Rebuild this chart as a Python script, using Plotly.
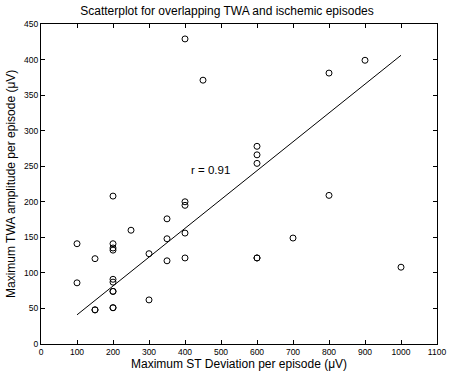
import plotly.graph_objects as go

# Data
st_dev = [100, 100, 150, 150, 150, 200, 200, 200, 200, 200, 200, 200, 200, 200, 200,
          250, 300, 300, 350, 350, 350, 400, 400, 400, 400, 400, 450,
          600, 600, 600, 600, 600, 700, 800, 800, 900, 1000]
twa_amp = [141, 86, 120, 48, 48, 208, 141, 135, 132, 91, 87, 74, 74, 51, 51,
           160, 127, 62, 176, 148, 117, 429, 200, 195, 156, 121, 371,
           278, 266, 254, 121, 121, 149, 381, 209, 399, 108]
# fitted line endpoints
fit_x = [100, 1000]
fit_y = [41, 406]
r_label = "r = 0.91"
x_ticks = list(range(0, 1101, 100))
y_ticks = list(range(0, 451, 50))
x_title = "Maximum ST Deviation per episode (μV)"
y_title = "Maximum TWA amplitude per episode (μV)"

font_family = "Liberation Sans, Arial, Helvetica, sans-serif"

fig = go.Figure()
fig.add_trace(go.Scatter(
    x=st_dev, y=twa_amp, mode="markers",
    marker=dict(symbol="circle-open", size=6, color="black", line=dict(width=1, color="black")),
    showlegend=False, hoverinfo="x+y"))
fig.add_trace(go.Scatter(
    x=fit_x, y=fit_y, mode="lines",
    line=dict(color="black", width=1), showlegend=False))

fig.add_annotation(x=410, y=245, text=r_label, showarrow=False, xanchor="left",
                   yanchor="middle", font=dict(size=11.5, color="black", family=font_family))

# axis titles as annotations for precise placement
fig.add_annotation(xref="paper", yref="paper", x=0.5, y=0, yshift=-20, text=x_title,
                   showarrow=False, xanchor="center", yanchor="middle",
                   font=dict(size=12, color="black", family=font_family))
fig.add_annotation(xref="paper", yref="paper", x=0, y=0.5, xshift=-30, text=y_title,
                   textangle=-90, showarrow=False, xanchor="center", yanchor="middle",
                   font=dict(size=12, color="black", family=font_family))

axis_common = dict(
    showline=True, linecolor="black", linewidth=1, mirror="allticks",
    ticks="inside", ticklen=4, tickcolor="black", showgrid=False, zeroline=False,
    tickfont=dict(size=8.5, color="black", family=font_family),
    ticklabeloverflow="allow",
)

fig.update_layout(
    width=454, height=372,
    margin=dict(l=41, r=8, t=24, b=28),
    paper_bgcolor="white", plot_bgcolor="white",
    font=dict(family=font_family, color="black"),
    title=dict(text="Scatterplot for overlapping TWA and ischemic episodes",
               x=0.5, xanchor="center", yref="container", y=1 - 11/372, yanchor="middle",
               font=dict(size=12, color="black", family=font_family)),
    xaxis=dict(range=[0, 1100], tickvals=x_ticks, **axis_common),
    yaxis=dict(range=[0, 450], tickvals=y_ticks, **axis_common),
)

fig.write_html("out.html", config={"displayModeBar": False},
               post_script="document.body.style.margin='0';")
